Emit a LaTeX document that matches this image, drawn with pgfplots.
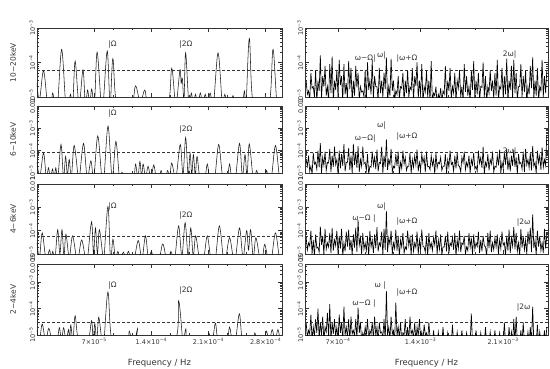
\documentclass[border=0pt]{standalone}
\usepackage{fontspec}
\setmainfont{DejaVu Sans}
\usepackage{pgfplots}
\usepackage{pgfplotstable}
\pgfplotsset{compat=1.18}

\newcommand{\ex}[1]{\textsuperscript{#1}}

% periodograms of the right column (f in 1e-4 Hz), peaks and the dips between them
\pgfplotstableread{
f r1 r2 r3 r4
4.3 3e-5 4e-5 5e-5 3e-5
4.4 1.2e-5 2e-5 1.5e-5 8e-6
4.5 1.5e-5 6e-5 3e-5 1.5e-5
4.6 8e-6 1.2e-5 2.2e-5 1.1e-5
4.7 5e-5 2e-5 1e-4 6e-5
4.8 1.8e-5 9e-6 1e-5 6e-6
4.9 2e-5 8e-5 4e-5 2e-5
5.0 1e-5 2.5e-5 8e-6 9e-6
5.1 6e-5 3e-5 7e-5 4e-5
5.2 7e-6 1.5e-5 1.8e-5 1.2e-5
5.3 3e-5 1e-4 2e-5 1e-4
5.4 1.5e-5 1.8e-5 1.2e-5 7e-6
5.5 1.6e-4 2.2e-4 1.5e-4 3e-5
5.6 9e-6 1e-5 2.5e-5 1e-5
5.7 4e-5 5e-5 6e-5 5e-5
5.8 2e-5 2.2e-5 9e-6 6e-6
5.9 8e-5 9e-5 1.2e-4 2e-5
6.0 1.1e-5 1.3e-5 1.6e-5 1.3e-5
6.1 2e-5 3e-5 3e-5 7e-5
6.2 8e-6 2.8e-5 2e-5 8e-6
6.3 9e-5 1.2e-4 8e-5 1.5e-4
6.4 1.3e-5 1.1e-5 1.1e-5 6e-6
6.5 1.5e-4 6e-5 1.3e-4 3e-5
6.6 7e-6 1.9e-5 1.4e-5 1.1e-5
6.7 3e-5 1.5e-4 4e-5 4e-5
6.8 1.6e-5 2.4e-5 2.3e-5 9e-6
6.9 6e-5 4e-5 1e-4 2e-5
7.0 1e-5 9e-6 1e-5 7e-6
7.1 1.2e-4 1e-4 6e-5 6e-5
7.2 2.2e-5 1.6e-5 1.7e-5 1.2e-5
7.3 4e-5 7e-5 1.2e-4 3e-5
7.4 8e-6 2.1e-5 8e-6 6e-6
7.5 9e-5 2e-4 3e-5 1.2e-4
7.6 1.2e-5 1.2e-5 1.3e-5 1e-5
7.7 2.5e-5 3e-5 9e-5 2e-5
7.8 9e-6 3e-5 2.1e-5 8e-6
7.9 1.1e-4 1.3e-4 1.1e-4 4e-5
8.0 1.7e-5 1.4e-5 1.5e-5 6e-6
8.1 7e-5 6e-5 4e-5 5e-5
8.2 7e-6 1e-5 9e-6 1.1e-5
8.3 3e-5 2e-4 7e-5 1.5e-5
8.4 1.1e-5 2.3e-5 1.9e-5 9e-6
8.5 8e-5 8e-5 1.3e-4 4e-5
8.6 1.9e-5 1.7e-5 1.2e-5 7e-6
8.7 5e-5 1.6e-4 2.9e-4 1.1e-4
8.8 8e-6 1.1e-5 2.4e-5 1.2e-5
8.9 2e-5 4e-5 5e-5 3e-5
9.0 1.4e-5 2e-5 1e-5 6e-6
9.1 1.5e-5 1.5e-4 8e-5 1.2e-5
9.2 1e-5 2.6e-5 1.6e-5 8e-6
9.3 6e-5 3e-5 3e-5 2e-5
9.4 7e-6 1.3e-5 1.4e-5 1e-5
9.5 1e-4 7e-5 6e-5 4e-5
9.6 1.6e-5 9e-6 8e-6 6e-6
9.7 3e-5 2e-5 1e-4 1.5e-5
9.8 1.2e-5 1.8e-5 2e-5 1.1e-5
9.9 1.2e-4 9e-5 4e-5 3e-5
10.0 9e-6 2.2e-5 1.1e-5 7e-6
10.1 4e-5 5e-5 7e-5 5e-5
10.2 2e-5 1.5e-5 1.8e-5 9e-6
10.3 2e-5 1.1e-4 1.4e-4 2e-5
10.4 8e-6 1.2e-5 1.3e-5 6e-6
10.5 7e-5 3e-5 3e-5 3e-5
10.6 1.3e-5 2.7e-5 2.2e-5 1.2e-5
10.7 3e-5 1.5e-4 9e-5 1.3e-5
10.8 1e-5 1e-5 9e-6 8e-6
10.9 5e-5 6e-5 1.2e-4 4e-5
11.0 1.7e-5 1.9e-5 1.5e-5 6e-6
11.1 1.4e-4 3.2e-4 7e-4 4.8e-4
11.2 7e-6 1.4e-5 1.2e-5 1e-5
11.3 2e-5 4e-5 5e-5 2e-5
11.4 1.1e-5 2.4e-5 2.6e-5 7e-6
11.5 1.3e-4 1.2e-4 1e-4 5e-5
11.6 1.5e-5 1.1e-5 1e-5 1.1e-5
11.7 3e-5 2e-5 3e-5 1.5e-5
11.8 8e-6 1.7e-5 1.7e-5 6e-6
11.9 1.5e-5 7e-5 1.1e-4 1.7e-4
12.0 1.2e-5 2.1e-5 1.4e-5 9e-6
12.1 4e-5 9e-5 6e-5 2e-5
12.2 9e-6 9e-6 8e-6 8e-6
12.3 2e-5 3e-5 4e-5 3e-5
12.4 1.8e-5 1.6e-5 2e-5 6e-6
12.5 5e-5 1e-4 8e-5 1.2e-5
12.6 7e-6 2.5e-5 1.1e-5 1e-5
12.7 3e-5 5e-5 2e-5 4e-5
12.8 1.3e-5 1.3e-5 1.6e-5 7e-6
12.9 6e-5 2e-5 1e-4 2e-5
13.0 1e-5 2e-5 2.3e-5 6e-6
13.1 2e-5 8e-5 5e-5 5e-5
13.2 1.6e-5 1e-5 9e-6 1.1e-5
13.3 7e-5 4e-5 7e-5 1.5e-5
13.4 8e-6 1.8e-5 1.3e-5 8e-6
13.5 4e-5 6e-5 3e-5 3e-5
13.6 2.1e-5 2.3e-5 1.9e-5 6e-6
13.7 1e-4 1.1e-4 9e-5 2e-5
13.8 9e-6 1.2e-5 1e-5 9e-6
13.9 3e-5 3e-5 4e-5 4e-5
14.0 1.2e-5 1.5e-5 1.5e-5 7e-6
14.1 9e-5 7e-5 1.1e-4 1.3e-5
14.2 7e-6 2.8e-5 2.1e-5 6e-6
14.3 2e-5 5e-5 2e-5 2.5e-5
14.4 1.4e-5 1.1e-5 1.2e-5 1e-5
14.5 6e-5 9e-5 6e-5 1.2e-5
14.6 1e-5 1.9e-5 8e-6 6e-6
14.7 3e-5 2e-5 8e-5 3e-5
14.8 8e-6 1.4e-5 1.8e-5 8e-6
14.9 1.1e-4 6e-5 3e-5 5e-6
15.0 7e-6 2.2e-5 1.4e-5 5e-6
15.1 1.3e-5 4e-5 5e-5 1.5e-5
15.2 1.1e-5 9e-6 2.4e-5 5e-6
15.3 2e-5 8e-5 1e-4 5e-6
15.4 6e-6 1.7e-5 1e-5 5e-6
15.5 1.2e-5 3e-5 4e-5 1.3e-5
15.6 9e-6 2.6e-5 1.6e-5 5e-6
15.7 1.8e-5 5e-5 7e-5 5e-6
15.8 7e-6 1.3e-5 9e-6 5e-6
15.9 1.5e-5 2e-5 2e-5 2e-5
16.0 1.2e-5 2e-5 2e-5 5e-6
16.1 8e-5 7e-5 6e-5 5e-6
16.2 8e-6 1e-5 1.3e-5 5e-6
16.3 3e-5 4e-5 9e-5 1.2e-5
16.4 1.5e-5 1.8e-5 1.1e-5 5e-6
16.5 7e-5 1e-4 3e-5 5e-6
16.6 9e-6 2.4e-5 2.2e-5 5e-6
16.7 2e-5 3e-5 5e-5 2.5e-5
16.8 1.3e-5 1.2e-5 1.5e-5 5e-6
16.9 5e-5 6e-5 8e-5 5e-6
17.0 7e-6 1.6e-5 8e-6 5e-6
17.1 3e-5 8e-5 4e-5 1.3e-5
17.2 1.8e-5 2.1e-5 1.7e-5 5e-6
17.3 6e-5 2e-5 1e-4 5e-6
17.4 1e-5 1.1e-5 1.2e-5 5e-6
17.5 2e-5 5e-5 3e-5 1.5e-5
17.6 8e-6 2.9e-5 2.5e-5 5e-6
17.7 9e-5 9e-5 6e-5 5e-6
17.8 1.4e-5 1.4e-5 1e-5 5e-6
17.9 4e-5 3e-5 2e-5 1.2e-5
18.0 1.1e-5 1.9e-5 1.4e-5 5e-6
18.1 2e-5 6e-5 8e-5 5e-6
18.2 7e-6 1e-5 1.9e-5 5e-6
18.3 6e-5 4e-5 5e-5 6.5e-5
18.4 1.6e-5 2.3e-5 9e-6 5e-6
18.5 1.1e-4 8e-5 7e-5 5e-6
18.6 9e-6 1.5e-5 1.6e-5 5e-6
18.7 3e-5 2e-5 3e-5 1.5e-5
18.8 1.2e-5 1.2e-5 2.1e-5 5e-6
18.9 5e-5 1e-4 9e-5 5e-6
19.0 8e-6 2.7e-5 1.1e-5 5e-6
19.1 2e-5 5e-5 4e-5 1.2e-5
19.2 1.9e-5 1.7e-5 1.3e-5 5e-6
19.3 1e-4 1.5e-4 6e-5 5e-6
19.4 1e-5 9e-6 2.3e-5 5e-6
19.5 4e-5 3e-5 2e-5 2e-5
19.6 7e-6 2e-5 8e-6 5e-6
19.7 2e-5 7e-5 8e-5 5e-6
19.8 1.3e-5 1.3e-5 1.8e-5 5e-6
19.9 6e-5 4e-5 1e-4 1.3e-5
20.0 1.5e-5 2.5e-5 1.2e-5 5e-6
20.1 3e-5 9e-5 3e-5 5e-6
20.2 9e-6 1.1e-5 1.5e-5 5e-6
20.3 5e-5 2e-5 5e-5 1.5e-5
20.4 1.1e-5 1.8e-5 2e-5 5e-6
20.5 1.2e-4 6e-5 7e-5 5e-6
20.6 8e-6 2.2e-5 1e-5 5e-6
20.7 2e-5 1.1e-4 4e-5 1.2e-5
20.8 1.7e-5 1e-5 1.7e-5 5e-6
20.9 7e-5 3e-5 9e-5 5e-6
21.0 1e-5 1.6e-5 2.4e-5 5e-6
21.1 4e-5 8e-5 3e-5 3e-5
21.2 1.2e-5 2.4e-5 9e-6 5e-6
21.3 1.3e-4 1.2e-4 6e-5 5e-6
21.4 7e-6 1.4e-5 1.4e-5 5e-6
21.5 3e-5 4e-5 1.1e-4 2e-5
21.6 1.6e-5 1.2e-5 1.1e-5 5e-6
21.7 8e-5 6e-5 5e-5 1.3e-5
21.8 9e-6 2.1e-5 2.2e-5 5e-6
21.9 1.2e-4 1.1e-4 1.4e-4 4e-5
22.0 1.3e-5 1.9e-5 1.6e-5 5e-6
22.1 5e-5 5e-5 8e-5 5e-5
22.2 8e-6 9e-6 1.3e-5 5e-6
22.3 2e-5 7e-5 3e-5 5e-6
22.4 2e-5 2.6e-5 8e-6 5e-6
22.5 9e-5 3e-5 1.2e-4 1.5e-5
22.6 1e-5 1.5e-5 1.9e-5 5e-6
22.7 4e-5 9e-5 6e-5 3e-5
22.8 1.4e-5 1.1e-5 1.5e-5 5e-6
22.9 6e-5 1.2e-4 4e-5 5e-6
23.0 7e-6 2.3e-5 1e-5 5e-6
23.1 2e-5 4e-5 9e-5 1.3e-5
23.2 1.2e-5 1.7e-5 2.6e-5 5e-6
23.3 8e-5 8e-5 1.3e-4 2e-5
23.4 1.8e-5 1.3e-5 1.2e-5 5e-6
23.5 1.4e-4 1.6e-4 5e-4 1.2e-4
23.6 9e-6 2e-5 1.8e-5 5e-6
23.7 3e-5 3e-5 4e-5 5e-6
23.8 1.1e-5 1e-5 9e-6 5e-6
23.9 7e-5 1e-4 1e-4 2.5e-5
24.0 8e-6 2.8e-5 2.1e-5 5e-6
24.1 2e-5 6e-5 6e-5 1.3e-5
24.2 1.5e-5 1.4e-5 1.4e-5 5e-6
24.3 1.2e-4 1.4e-4 3e-5 5e-6
24.4 1e-5 1.8e-5 1.1e-5 5e-6
24.5 4e-5 4e-5 1.2e-4 1.5e-5
24.6 1.3e-5 2.2e-5 1.7e-5 5e-6
24.7 6e-5 5e-4 7e-5 2e-5
}\spikes

\pgfplotsset{
  pnl/.style={
    scale only axis,
    axis line style={line width=0.5pt, black!80},
    tick align=inside,
    major tick length=4pt, minor tick length=2pt,
    every tick/.style={black!80, line width=0.4pt},
    tick label style={font=\fontsize{6.5}{7}\selectfont, text=black!80},
    yticklabel style={rotate=90, anchor=south, inner sep=1.5pt},
    minor ytick={2e-5,3e-5,4e-5,5e-5,6e-5,7e-5,8e-5,9e-5,2e-4,3e-4,4e-4,5e-4,6e-4,7e-4,8e-4,9e-4,2e-3,3e-3,4e-3,5e-3,6e-3,7e-3,8e-3,9e-3},
    minor x tick num=2,
    every axis y label/.style={at={(rel axis cs:0,0.5)}, xshift=-24pt, rotate=90, anchor=center,
      font=\fontsize{7.5}{9}\selectfont, text=black!80},
    every axis x label/.style={at={(rel axis cs:0.5,0)}, yshift=-28pt, anchor=center,
      font=\fontsize{8.5}{10}\selectfont, text=black!80},
  },
  crv/.style={black!90, line width=0.55pt, smooth, tension=0.55},
  spk/.style={black, line width=0.65pt, sharp plot},
  dln/.style={black!80, line width=0.4pt, dash pattern=on 3pt off 2pt},
}
\tikzset{lab/.style={inner sep=0pt, font=\fontsize{7.5}{8}\selectfont, text=black!80}}

\begin{document}
\begin{tikzpicture}
\path[use as bounding box] (0,0) rectangle (550pt,368pt);

% ---------------- left column ----------------
\begin{axis}[pnl, ymode=log, at={(37pt,271pt)}, anchor=south west,
  width=245pt, height=69pt, xmin=0, xmax=30, xtick={7,14,21,28},
  ymin=1e-5, ymax=1e-3,
  ytick={1e-5,1e-4,1e-3}, yticklabels={10\ex{−5},10\ex{−4},10\ex{−3}},
  xticklabels={}, ylabel={10−20keV}]
\addplot[crv] coordinates {(0,2.5e-5)(0.3,8e-6)(0.8,5.8e-5)(1.3,6e-6)(1.68,6e-6)(1.93,1.3e-5)(2.18,6e-6)(2.52,6e-6)(3.02,2.4e-4)(3.52,6e-6)(3.85,6e-6)(4.1,1.2e-5)(4.38,6e-6)(4.67,1.1e-4)(5.15,6e-6)(5.63,6.1e-5)(5.92,6e-6)(6.2,1.6e-5)(6.45,6e-6)(6.7,1.7e-5)(7.03,6e-6)(7.36,2e-4)(7.86,6e-6)(8.1,6e-6)(8.6,2.15e-4)(8.95,6e-6)(9.29,1.3e-4)(9.79,6e-6)(11.57,6e-6)(12.07,2.1e-5)(12.62,6e-6)(12.7,6e-6)(13.2,1.6e-5)(13.7,6e-6)(16.0,6e-6)(16.5,6.8e-5)(17.0,6e-6)(17.5,6e-5)(17.65,2.5e-5)(17.8,3.5e-5)(18.0,8e-6)(18.2,1.9e-4)(18.6,6e-6)(18.9,1.3e-5)(19.15,6e-6)(19.4,1.2e-5)(19.7,6e-6)(20.0,1.3e-5)(20.3,6e-6)(20.6,1.2e-5)(20.9,6e-6)(21.2,1.3e-5)(21.6,6e-6)(22.17,1.9e-4)(22.67,6e-6)(22.75,6e-6)(23.0,1.2e-5)(23.25,6e-6)(23.75,6e-6)(24.0,1.1e-5)(24.25,6e-6)(25.1,6e-6)(25.4,1.5e-5)(25.6,6e-6)(26.0,5e-4)(26.5,6e-6)(28.4,6e-6)(28.9,2.4e-4)(29.4,6e-6)(30,6e-6)};
\addplot[dln] coordinates {(0,5.8e-5)(30,5.8e-5)};
\node[lab, anchor=south west] at (axis cs:8.7,2.6e-4) {|Ω};
\node[lab, anchor=south west] at (axis cs:17.4,2.6e-4) {|2Ω};
\end{axis}

\begin{axis}[pnl, ymode=log, at={(37pt,195pt)}, anchor=south west,
  width=245pt, height=67pt, xmin=0, xmax=30, xtick={7,14,21,28},
  ymin=1e-5, ymax=1e-2,
  ytick={1e-5,1e-4,1e-3,1e-2}, yticklabels={10\ex{−5},10\ex{−4},10\ex{−3},0.01},
  xticklabels={}, ylabel={6−10keV}]
\addplot[crv] coordinates {(0,3e-5)(0.35,7e-6)(0.8,7.9e-5)(1.15,6e-6)(1.4,1.7e-5)(1.65,6e-6)(1.9,1.5e-5)(2.1,6e-6)(2.3,1.7e-5)(2.55,6e-6)(2.94,1.9e-4)(3.25,6e-6)(3.5,5.5e-5)(3.72,8e-6)(3.95,4e-5)(4.2,6e-6)(4.55,1.7e-4)(5.05,6e-6)(5.2,6e-6)(5.7,2.1e-4)(6.15,6e-6)(6.6,3.5e-5)(6.95,6e-6)(7.44,4.5e-4)(7.94,6e-6)(8.2,6e-6)(8.7,1.26e-3)(9.2,6e-6)(9.66,2.6e-4)(10.1,6e-6)(10.4,1.1e-5)(10.65,6e-6)(11.8,6e-6)(12.07,2.5e-5)(12.35,6e-6)(12.6,3.3e-5)(12.8,7e-6)(13.0,2.5e-5)(13.3,6e-6)(13.6,2e-5)(13.95,6e-6)(14.3,2.3e-5)(14.6,6e-6)(14.95,6e-6)(15.2,1.3e-5)(15.45,6e-6)(15.75,6e-6)(16.0,1.3e-5)(16.25,6e-6)(16.5,2.8e-5)(17.0,6e-6)(17.54,1.9e-4)(17.88,8e-6)(18.2,3.9e-4)(18.5,8e-6)(18.75,7.7e-5)(18.95,8e-6)(19.15,6.6e-5)(19.38,8e-6)(19.6,5.5e-5)(19.95,6e-6)(20.55,6e-6)(20.85,2.5e-5)(21.15,6e-6)(21.75,6e-6)(22.25,1.9e-4)(22.75,6e-6)(23.3,6e-6)(23.58,2.5e-5)(23.85,6e-6)(24.3,6e-6)(24.8,2.1e-4)(25.15,7e-6)(25.47,6.6e-5)(25.72,7e-6)(25.99,2e-4)(26.45,6e-6)(26.65,6e-6)(26.9,1.3e-5)(27.15,6e-6)(27.85,6e-6)(28.1,1.3e-5)(28.35,6e-6)(28.7,6e-6)(29.2,1.7e-4)(29.7,6e-6)(30,6e-6)};
\addplot[dln] coordinates {(0,8.7e-5)(30,8.7e-5)};
\node[lab, anchor=south west] at (axis cs:8.7,3.2e-3) {|Ω};
\node[lab, anchor=south west] at (axis cs:17.4,6.2e-4) {|2Ω};
\end{axis}

\begin{axis}[pnl, ymode=log, at={(37pt,114pt)}, anchor=south west,
  width=245pt, height=70pt, xmin=0, xmax=30, xtick={7,14,21,28},
  ymin=1e-5, ymax=1e-2,
  ytick={1e-5,1e-4,1e-3,1e-2}, yticklabels={10\ex{−5},10\ex{−4},10\ex{−3},0.01},
  xticklabels={}, ylabel={4−6keV}]
\addplot[crv] coordinates {(0,3e-5)(0.3,7e-6)(0.64,8e-5)(1.1,6e-6)(1.53,1.5e-5)(1.73,6e-6)(1.93,1.3e-5)(2.2,6e-6)(2.53,1.1e-4)(2.8,1e-5)(3.06,1.1e-4)(3.3,8e-6)(3.54,7e-5)(3.95,7e-6)(4.35,6e-5)(4.85,6e-6)(5.05,6e-6)(5.47,4e-5)(5.95,6e-6)(6.18,6e-6)(6.68,2.4e-4)(6.92,1e-5)(7.16,1.3e-4)(7.4,1e-5)(7.64,1.1e-4)(8.1,6e-6)(8.2,6e-6)(8.69,1.1e-3)(9.0,6e-6)(9.3,4.3e-5)(9.6,6e-6)(9.9,1.3e-5)(10.2,6e-6)(10.58,1.2e-5)(10.9,6e-6)(11.19,1.3e-5)(11.5,6e-6)(11.9,6e-6)(12.4,3.8e-5)(12.85,6e-6)(13.28,6e-5)(13.65,6e-6)(14.0,1.3e-5)(14.3,6e-6)(14.95,6e-6)(15.4,2.7e-5)(15.85,6e-6)(16.15,6e-6)(16.4,1.3e-5)(16.85,6e-6)(17.34,1.6e-4)(17.74,8e-6)(18.14,2.2e-4)(18.5,8e-6)(18.83,1.3e-4)(19.13,8e-6)(19.43,6e-5)(19.9,6e-6)(20.4,6e-6)(20.85,6e-5)(21.3,6e-6)(21.83,6e-6)(22.33,1.6e-4)(22.83,6e-6)(23.1,6e-6)(23.58,5e-5)(24.05,6e-6)(24.3,6e-6)(24.8,1.3e-4)(25.23,7e-6)(25.67,1e-4)(25.9,1.5e-5)(26.16,1.1e-4)(26.48,7e-6)(26.8,5e-5)(27.3,6e-6)(27.6,6e-6)(27.88,2.6e-5)(28.3,6e-6)(28.7,6e-6)(29.2,8e-5)(29.7,6e-6)(30,6e-6)};
\addplot[dln] coordinates {(0,5.9e-5)(30,5.9e-5)};
\node[lab, anchor=south west] at (axis cs:8.7,7.7e-4) {|Ω};
\node[lab, anchor=south west] at (axis cs:17.4,2.9e-4) {|2Ω};
\end{axis}

\begin{axis}[pnl, ymode=log, at={(37pt,33pt)}, anchor=south west,
  width=245pt, height=71pt, xmin=0, xmax=30, xtick={7,14,21,28},
  ymin=1e-5, ymax=5e-3,
  ytick={1e-5,1e-4,1e-3,5e-3}, yticklabels={10\ex{−5},10\ex{−4},10\ex{−3},0.005},
  xticklabels={7×10\ex{−5},1.4×10\ex{−4},2.1×10\ex{−4},2.8×10\ex{−4}},
  ylabel={2−4keV}, xlabel={Frequency / Hz}]
\addplot[crv] coordinates {(0,1.5e-5)(0.3,6e-6)(0.64,2.6e-5)(1.05,6e-6)(1.45,1.8e-5)(1.85,6e-6)(2.45,6e-6)(2.74,1.9e-5)(3.0,6e-6)(3.26,1.9e-5)(3.56,6e-6)(3.86,1.6e-5)(4.0,7e-6)(4.14,2.4e-5)(4.4,6e-6)(4.67,5.4e-5)(5.1,6e-6)(6.25,6e-6)(6.68,3.5e-5)(6.88,7e-6)(7.08,2.7e-5)(7.32,6e-6)(7.56,4.7e-5)(7.95,6e-6)(8.2,6e-6)(8.69,4.3e-4)(9.2,6e-6)(11.0,6e-6)(11.3,1.4e-5)(11.6,6e-6)(12.0,6e-6)(12.31,1.7e-5)(12.6,6e-6)(16.84,6e-6)(17.34,2e-4)(17.84,6e-6)(17.95,6e-6)(18.23,1.7e-5)(18.5,6e-6)(20.75,6e-6)(21.04,1.2e-5)(21.3,6e-6)(21.5,6e-6)(21.85,2.8e-5)(22.2,6e-6)(23.25,6e-6)(23.58,2e-5)(23.9,6e-6)(24.3,6e-6)(24.78,6.4e-5)(25.2,6e-6)(26.4,6e-6)(26.68,1.2e-5)(26.95,6e-6)(27.8,6e-6)(28.09,1.4e-5)(28.45,6e-6)(28.8,1.6e-5)(29.15,6e-6)(29.5,1.6e-5)(29.8,6e-6)(30,6e-6)};
\addplot[dln] coordinates {(0,3e-5)(30,3e-5)};
\node[lab, anchor=south west] at (axis cs:8.7,5.4e-4) {|Ω};
\node[lab, anchor=south west] at (axis cs:17.4,3.4e-4) {|2Ω};
\end{axis}

% ---------------- right column ----------------
\begin{axis}[pnl, ymode=log, at={(305pt,271pt)}, anchor=south west,
  width=243pt, height=69pt, xmin=4.2, xmax=24.8, xtick={7,14,21},
  ymin=1e-5, ymax=1e-3,
  ytick={1e-5,1e-4,1e-3}, yticklabels={10\ex{−5},10\ex{−4},10\ex{−3}},
  xticklabels={}]
\addplot[spk] table[x=f, y=r1] {\spikes};
\addplot[dln] coordinates {(4.2,5.8e-5)(24.8,5.8e-5)};
\node[lab, anchor=south east] at (axis cs:10.2,1.0e-4) {ω−Ω|};
\node[lab, anchor=south east] at (axis cs:11.07,1.2e-4) {ω|};
\node[lab, anchor=south west] at (axis cs:11.94,9.7e-5) {|ω+Ω};
\node[lab, anchor=south east] at (axis cs:22.14,1.35e-4) {2ω|};
\end{axis}

\begin{axis}[pnl, ymode=log, at={(305pt,195pt)}, anchor=south west,
  width=243pt, height=67pt, xmin=4.2, xmax=24.8, xtick={7,14,21},
  ymin=1e-5, ymax=1e-2,
  ytick={1e-5,1e-4,1e-3,1e-2}, yticklabels={10\ex{−5},10\ex{−4},10\ex{−3},0.01},
  xticklabels={}]
\addplot[spk] table[x=f, y=r2] {\spikes};
\addplot[dln] coordinates {(4.2,8.7e-5)(24.8,8.7e-5)};
\node[lab, anchor=south east] at (axis cs:10.2,2.45e-4) {ω−Ω|};
\node[lab, anchor=south east] at (axis cs:11.07,8.5e-4) {ω|};
\node[lab, anchor=south west] at (axis cs:11.94,3e-4) {|ω+Ω};
\node[lab, anchor=south east] at (axis cs:22.14,6.4e-5) {2ω|};
\end{axis}

\begin{axis}[pnl, ymode=log, at={(305pt,114pt)}, anchor=south west,
  width=243pt, height=70pt, xmin=4.2, xmax=24.8, xtick={7,14,21},
  ymin=1e-5, ymax=1e-2,
  ytick={1e-5,1e-4,1e-3,1e-2}, yticklabels={10\ex{−5},10\ex{−4},10\ex{−3},0.01},
  xticklabels={}]
\addplot[spk] table[x=f, y=r3] {\spikes};
\addplot[dln] coordinates {(4.2,5.9e-5)(24.8,5.9e-5)};
\node[lab, anchor=south east] at (axis cs:11.07,7.7e-4) {ω|};
\node[lab, anchor=south east] at (axis cs:10.2,2.3e-4) {ω−Ω |};
\node[lab, anchor=south west] at (axis cs:11.94,1.7e-4) {|ω+Ω};
\node[lab, anchor=south west] at (axis cs:22.14,1.45e-4) {|2ω};
\end{axis}

\begin{axis}[pnl, ymode=log, at={(305pt,33pt)}, anchor=south west,
  width=243pt, height=71pt, xmin=4.2, xmax=24.8, xtick={7,14,21},
  ymin=1e-5, ymax=5e-3,
  ytick={1e-5,1e-4,1e-3,5e-3}, yticklabels={10\ex{−5},10\ex{−4},10\ex{−3},0.005},
  xticklabels={7×10\ex{−4},1.4×10\ex{−3},2.1×10\ex{−3}},
  xlabel={Frequency / Hz}]
\addplot[spk] table[x=f, y=r4] {\spikes};
\addplot[dln] coordinates {(4.2,3e-5)(24.8,3e-5)};
\node[lab, anchor=south east] at (axis cs:11.07,5.4e-4) {ω |};
\node[lab, anchor=south east] at (axis cs:10.2,1.1e-4) {ω−Ω |};
\node[lab, anchor=south west] at (axis cs:11.94,2.9e-4) {|ω+Ω};
\node[lab, anchor=south west] at (axis cs:22.14,7.6e-5) {|2ω};
\end{axis}
\end{tikzpicture}
\end{document}
